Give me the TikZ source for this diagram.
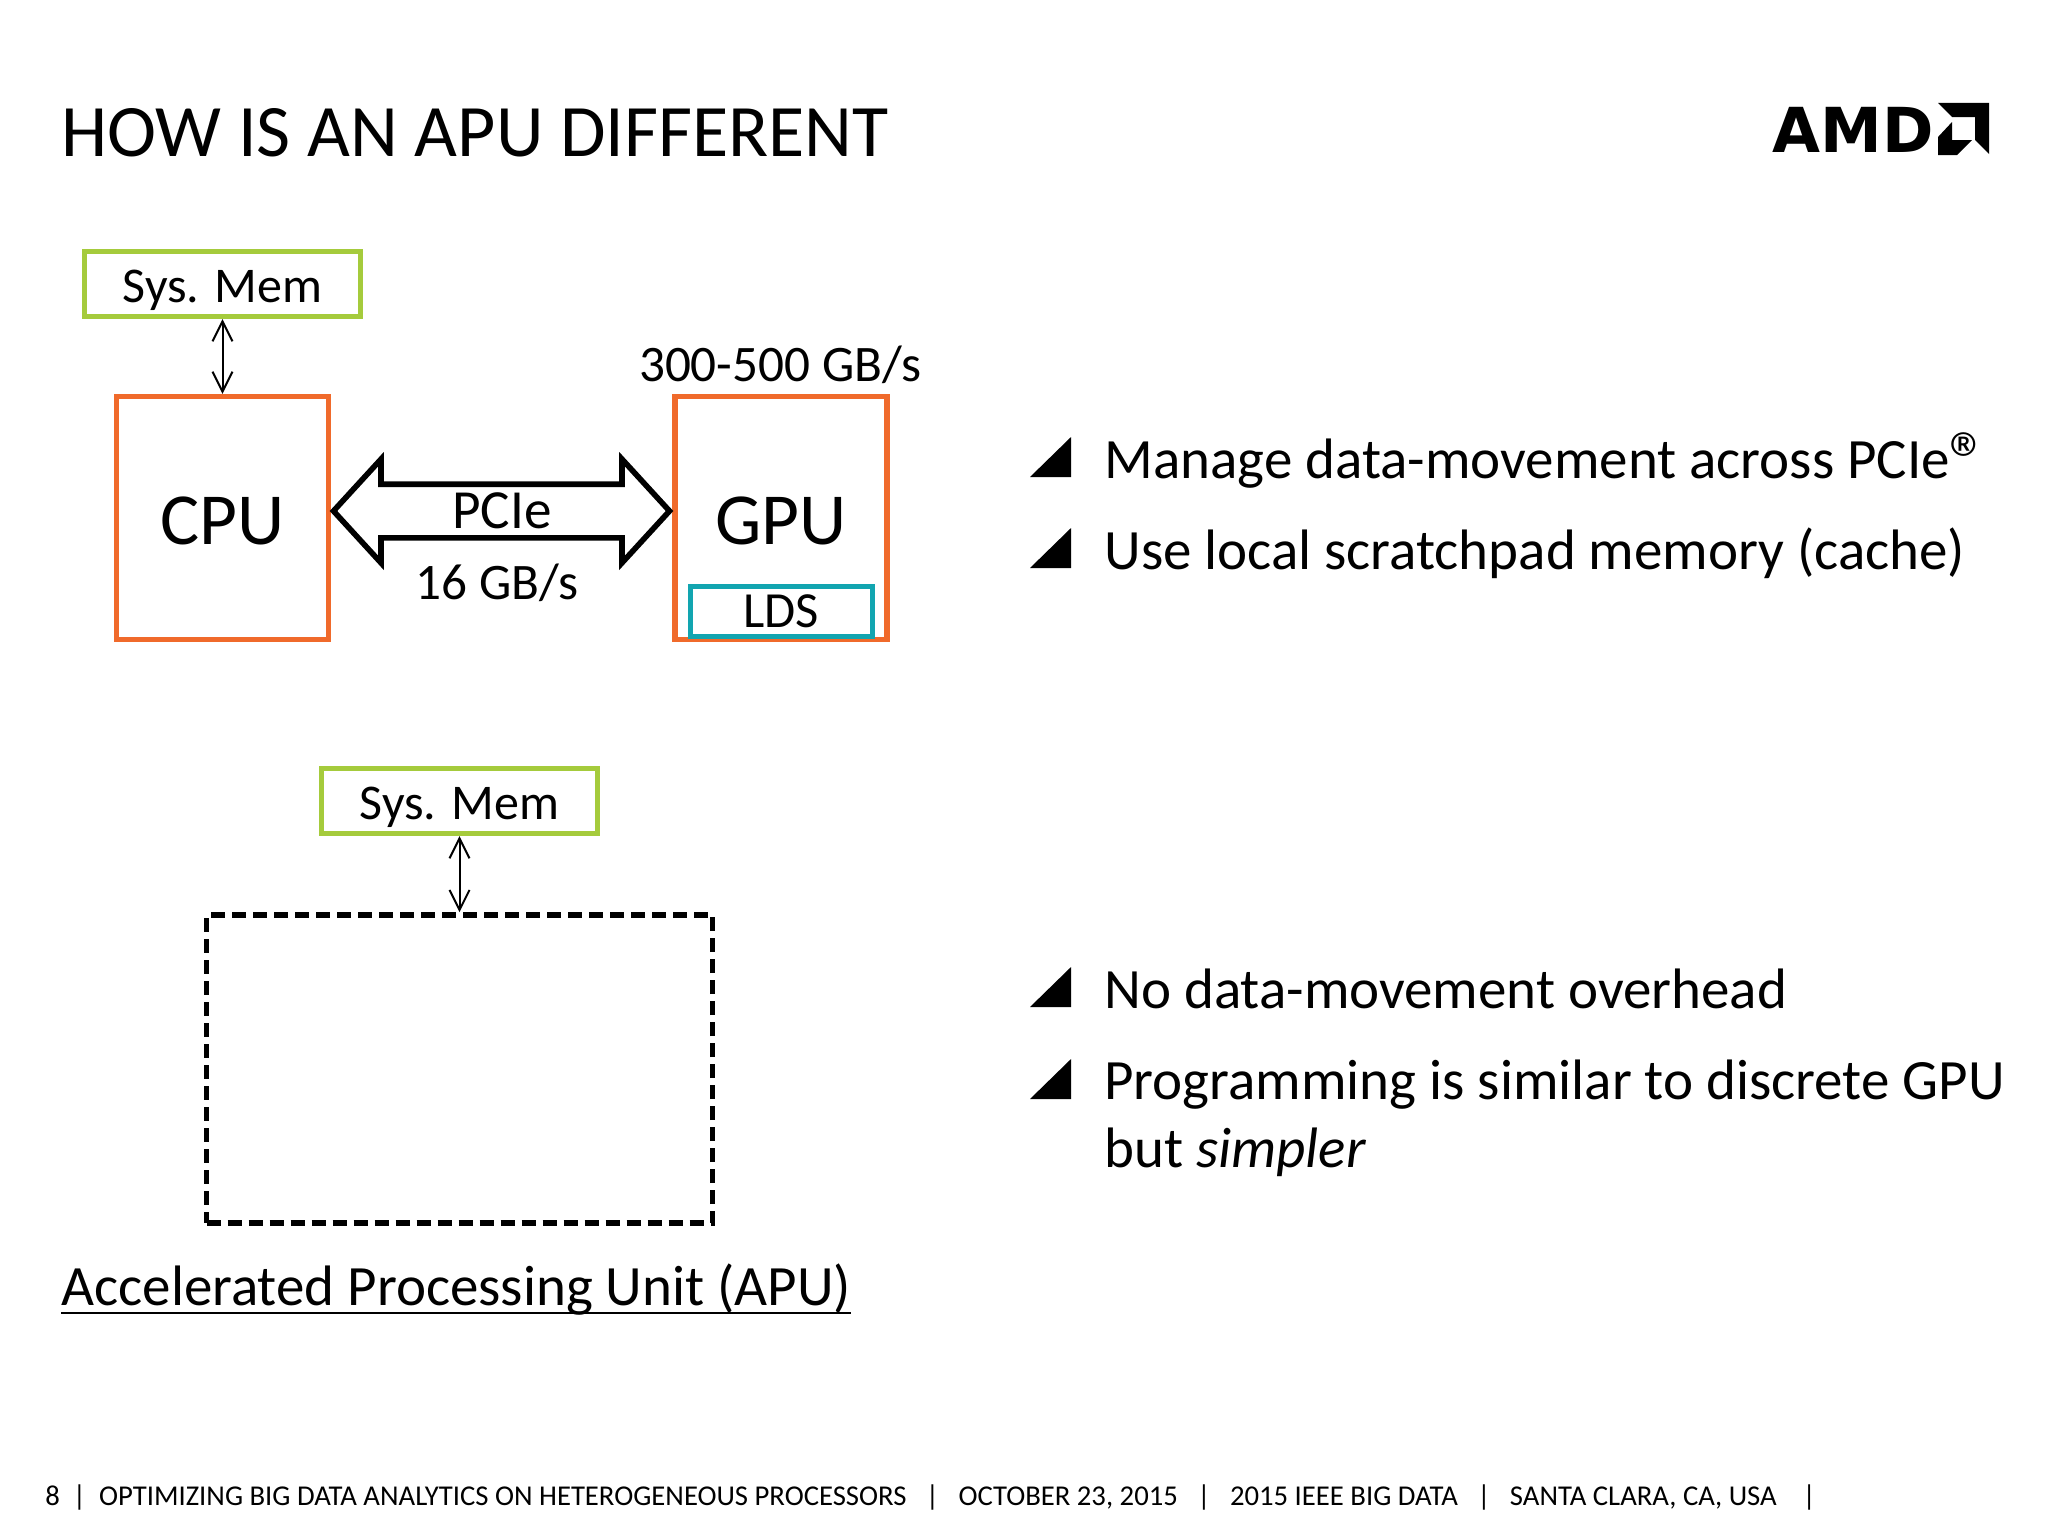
\documentclass[tikz,border=0pt]{standalone}
\usepackage{fontspec}
\setmainfont{Carlito}
\newfontfamily\logofont{DejaVu Sans}
\usetikzlibrary{arrows.meta,shapes.arrows}
\definecolor{boxorange}{HTML}{F06A2B}
\definecolor{memgreen}{HTML}{A5CB3C}
\definecolor{ldsteal}{HTML}{12A5B0}
\tikzset{
  px/.style={x=0.5pt,y=-0.5pt},
  memio/.style={line width=1pt, {Straight Barb[length=10pt,width=10pt]}-{Straight Barb[length=10pt,width=10pt]}},
  membox/.style={draw=memgreen, line width=2.6pt, minimum width=138pt, minimum height=32.5pt, inner sep=0pt, text height=18pt, text depth=0pt, font=\fontsize{25}{27}\selectfont},
  chipbox/.style={draw=boxorange, line width=2.6pt, minimum width=106pt, minimum height=121.5pt, inner sep=0pt, text height=26.5pt, text depth=0pt, font=\fontsize{36.7}{40}\selectfont},
  bullettext/.style={anchor=base west, inner sep=0pt, font=\fontsize{28.5}{34}\selectfont},
  label/.style={anchor=base, inner sep=0pt, font=\fontsize{25.6}{28}\selectfont},
}
\begin{document}
\begin{tikzpicture}[px]
\useasboundingbox (0,0) rectangle (2048,1536);

% Title and logo
\node[anchor=base west, inner sep=0pt, font=\fontsize{37}{40}\selectfont] (title) at (61,156) {HOW IS AN APU DIFFERENT};
\node[anchor=base west, inner sep=0pt, font=\logofont\bfseries\fontsize{31}{34}\selectfont] (amd) at (1772,152) {AMD};
\fill (1938,103) -- (1989,103) -- (1989,154) -- (1975,140) -- (1975,117) -- (1952,117) -- cycle;
\fill (1938,137) -- (1952,122) -- (1952,140) -- (1972,140) -- (1957,155) -- (1938,155) -- cycle;

% Discrete CPU and GPU
\node[membox] (mem1) at (222.5,284) {Sys. Mem};
\node[chipbox] (cpu) at (222.5,518) {CPU};
\node[chipbox] (gpu) at (781,518) {GPU};
\node[draw=ldsteal, line width=2.5pt, minimum width=91pt, minimum height=25pt, inner sep=0pt, text depth=0pt, font=\fontsize{25.3}{27}\selectfont] (lds) at (781,611) {LDS};
\node[label] (rate) at (780,381) {300-500 GB/s};
\draw[memio] (mem1) -- (cpu);

% PCIe link
\node[double arrow, draw, line width=2.8pt, minimum height=168pt, inner xsep=0pt, inner ysep=12pt,
  double arrow head extend=12.5pt, double arrow tip angle=95] (pcie) at (501.5,511) {};
\node[label, font=\fontsize{27.6}{29}\selectfont] at (502,528) {PCIe};
\node[label] (link) at (497,599) {16 GB/s};

% APU
\node[membox] (mem2) at (459.5,801) {Sys. Mem};
\node[draw, line width=2.8pt, dash pattern=on 7pt off 3.5pt, minimum width=253pt, minimum height=154pt, inner sep=0pt] (apu) at (459.5,1069) {};
\draw[memio] (mem2) -- (apu);
\node[anchor=base west, inner sep=0pt, font=\fontsize{28.5}{32}\selectfont] (apuname) at (61,1305) {Accelerated Processing Unit (APU)};
\draw[line width=1pt] ([yshift=-3.8pt]apuname.base west) -- ([yshift=-3.8pt]apuname.base east);

% Bullets
\foreach \y in {477,568,1007,1099} {
  \fill (1030,\y) -- (1071,\y) -- (1071,\y-40) -- cycle;
}
\node[bullettext] (b1) at (1104,478) {Manage data-movement across PCIe\raisebox{-4pt}{\fontsize{39}{34}\selectfont ®}};
\node[bullettext] (b2) at (1104,569) {Use local scratchpad memory (cache)};
\node[bullettext] (b3) at (1104,1008) {No data-movement overhead};
\node[bullettext] (b4) at (1104,1099) {Programming is similar to discrete GPU};
\node[bullettext] (b5) at (1104,1167) {but \textit{simpler}};

% Footer
\node[anchor=base west, inner sep=0pt, font=\fontsize{14.35}{16}\selectfont] (foot) at (45,1505.5)
  {8\ \ |\ \ OPTIMIZING BIG DATA ANALYTICS ON HETEROGENEOUS PROCESSORS\ \ \ |\ \ \ OCTOBER 23, 2015\ \ \ |\ \ \ 2015 IEEE BIG DATA\ \ \ |\ \ \ SANTA CLARA, CA, USA\ \ \ \ |};
\end{tikzpicture}
\end{document}
